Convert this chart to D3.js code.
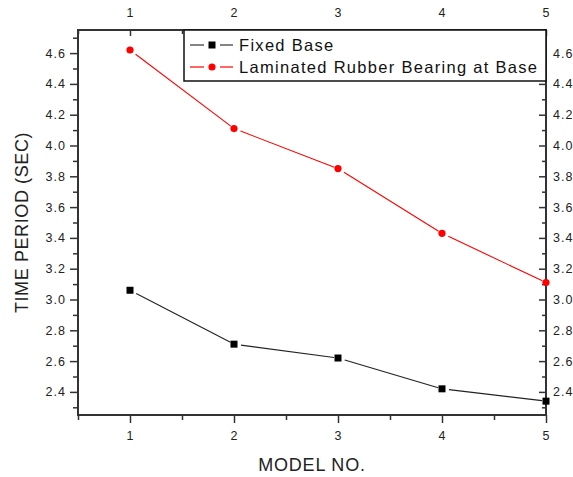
<!DOCTYPE html>
<html>
<head>
<meta charset="utf-8">
<script src="https://cdn.jsdelivr.net/npm/d3@7"></script>
<style>
  html, body { margin: 0; padding: 0; background: #fff; }
  svg { display: block; font-family: Arial, "Liberation Sans", sans-serif; }
</style>
</head>
<body>
<svg id="chart" width="573" height="477"></svg>
<script>
// Model numbers along the x axis
const models = [1, 2, 3, 4, 5];
// Fundamental time period (sec) for each model
const fixedBase = [3.06, 2.71, 2.62, 2.42, 2.34];
const rubberBearing = [4.62, 4.11, 3.85, 3.43, 3.11];
const seriesNames = ["Fixed Base", "Laminated Rubber Bearing at Base"];
// Axis tick values
const xTicks = [1, 2, 3, 4, 5];
const xMinorTicks = [0.5, 1.5, 2.5, 3.5, 4.5];
const yTicks = [2.4, 2.6, 2.8, 3.0, 3.2, 3.4, 3.6, 3.8, 4.0, 4.2, 4.4, 4.6];
const yMinorTicks = [2.3, 2.5, 2.7, 2.9, 3.1, 3.3, 3.5, 3.7, 3.9, 4.1, 4.3, 4.5, 4.7];

const svg = d3.select("#chart");
const plot = { left: 78, right: 546, top: 30, bottom: 415 };
const axisColor = "#333";

const x = d3.scaleLinear().domain([0.5, 5]).range([plot.left, plot.right]);
const y = d3.scaleLinear().domain([2.25, 4.75]).range([plot.bottom, plot.top]);

function styleAxis(g) {
  g.selectAll(".domain").remove();
  g.selectAll("line").attr("stroke", axisColor).attr("stroke-width", 1.5);
  g.selectAll("text").attr("fill", "#222").style("font-size", "12.5px").style("letter-spacing", "1px");
}

// Left axis (outward ticks)
const gl = svg.append("g").attr("transform", `translate(${plot.left},0)`)
  .call(d3.axisLeft(y).tickValues(yMinorTicks).tickSize(5).tickFormat(""));
const glm = svg.append("g").attr("transform", `translate(${plot.left},0)`)
  .call(d3.axisLeft(y).tickValues(yTicks).tickSize(8).tickPadding(4).tickFormat(d3.format(".1f")));
styleAxis(gl); styleAxis(glm);

// Right axis (inward ticks, labels outside)
const gr = svg.append("g").attr("transform", `translate(${plot.right},0)`)
  .call(d3.axisLeft(y).tickValues(yMinorTicks).tickSize(4).tickFormat(""));
const grm = svg.append("g").attr("transform", `translate(${plot.right},0)`)
  .call(d3.axisLeft(y).tickValues(yTicks).tickSize(7).tickFormat(d3.format(".1f")));
styleAxis(gr); styleAxis(grm);
grm.selectAll("text").attr("x", 7).attr("text-anchor", "start");

// Bottom axis (outward ticks)
const gb = svg.append("g").attr("transform", `translate(0,${plot.bottom})`)
  .call(d3.axisBottom(x).tickValues(xMinorTicks).tickSize(5).tickFormat(""));
const gbm = svg.append("g").attr("transform", `translate(0,${plot.bottom})`)
  .call(d3.axisBottom(x).tickValues(xTicks).tickSize(8).tickPadding(8).tickFormat(d3.format("d")));
styleAxis(gb); styleAxis(gbm);

// Top axis (inward ticks, labels outside)
const gt = svg.append("g").attr("transform", `translate(0,${plot.top})`)
  .call(d3.axisBottom(x).tickValues(xMinorTicks).tickSize(4).tickFormat(""));
const gtm = svg.append("g").attr("transform", `translate(0,${plot.top})`)
  .call(d3.axisBottom(x).tickValues(xTicks).tickSize(6).tickFormat(d3.format("d")));
styleAxis(gt); styleAxis(gtm);
gtm.selectAll("text").attr("y", -13).attr("dy", "0");

// Frame
svg.append("rect")
  .attr("x", plot.left).attr("y", plot.top)
  .attr("width", plot.right - plot.left).attr("height", plot.bottom - plot.top)
  .attr("fill", "none").attr("stroke", axisColor).attr("stroke-width", 2);

// Axis titles
svg.append("text")
  .attr("transform", `translate(28,${(plot.top + plot.bottom) / 2}) rotate(-90)`)
  .attr("text-anchor", "middle")
  .attr("fill", "#222")
  .style("font-size", "18px").style("letter-spacing", "0.6px")
  .text("TIME PERIOD (SEC)");
svg.append("text")
  .attr("x", (plot.left + plot.right) / 2).attr("y", 471)
  .attr("text-anchor", "middle")
  .attr("fill", "#222")
  .style("font-size", "18px").style("letter-spacing", "0.8px")
  .text("MODEL NO.");

// Series line segments, leaving a small gap after each marker
function drawSeries(values, color, markerFn) {
  const pts = models.map((m, i) => [x(m), y(values[i])]);
  const g = svg.append("g");
  for (let i = 0; i < pts.length - 1; i++) {
    const [x0, y0] = pts[i], [x1, y1] = pts[i + 1];
    const len = Math.hypot(x1 - x0, y1 - y0);
    const ux = (x1 - x0) / len, uy = (y1 - y0) / len;
    g.append("line")
      .attr("x1", x0 + ux * 7).attr("y1", y0 + uy * 7)
      .attr("x2", x1 - ux * 4).attr("y2", y1 - uy * 4)
      .attr("stroke", color).attr("stroke-width", 1.1);
  }
  pts.forEach(p => markerFn(g, p[0], p[1]));
}
const squareMarker = (g, cx, cy) => g.append("rect")
  .attr("x", cx - 3.5).attr("y", cy - 3.5).attr("width", 7).attr("height", 7).attr("fill", "#000");
const circleMarker = (g, cx, cy) => g.append("circle")
  .attr("cx", cx).attr("cy", cy).attr("r", 3.6).attr("fill", "#ff0000");

drawSeries(fixedBase, "#222", squareMarker);
drawSeries(rubberBearing, "#ff0000", circleMarker);

// Legend
const lg = svg.append("g");
lg.append("rect")
  .attr("x", 184).attr("y", plot.top).attr("width", plot.right - 184).attr("height", 51)
  .attr("fill", "#fff").attr("stroke", "#111").attr("stroke-width", 1.5);
const legendRows = [
  { name: seriesNames[0], color: "#333", marker: squareMarker, cy: 45 },
  { name: seriesNames[1], color: "#ff0000", marker: circleMarker, cy: 67 }
];
legendRows.forEach(r => {
  lg.append("line").attr("x1", 190).attr("x2", 204).attr("y1", r.cy).attr("y2", r.cy)
    .attr("stroke", r.color).attr("stroke-width", 1.2);
  lg.append("line").attr("x1", 220).attr("x2", 233).attr("y1", r.cy).attr("y2", r.cy)
    .attr("stroke", r.color).attr("stroke-width", 1.2);
  r.marker(lg, 212, r.cy);
  lg.append("text").attr("x", 239).attr("y", r.cy + 6)
    .attr("fill", "#111")
    .style("font-size", "16.5px").style("letter-spacing", "1.3px")
    .text(r.name);
});
</script>
</body>
</html>
